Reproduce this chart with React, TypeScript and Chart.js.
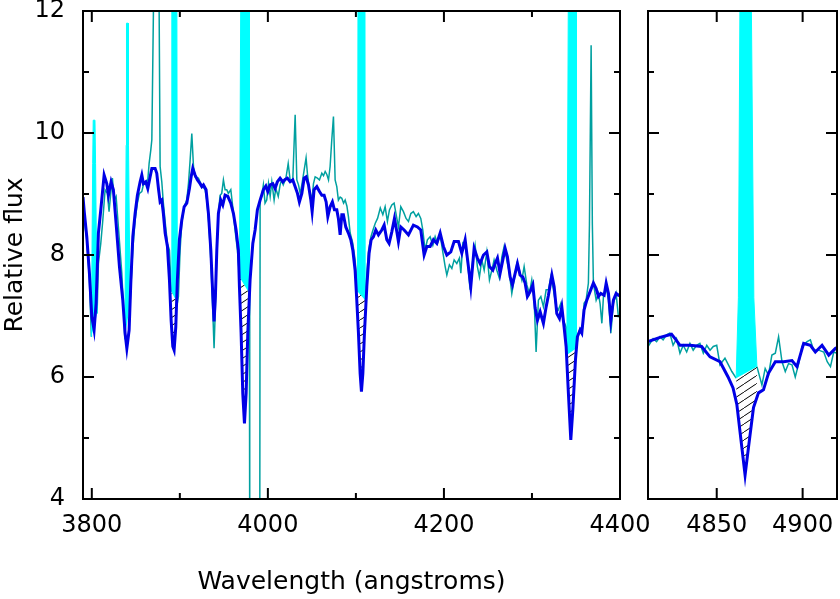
import { useEffect, useRef } from "react";
import { Chart, registerables } from "chart.js";

Chart.register(...registerables);

// ---------------- data (wavelength in angstroms, relative flux) ----------------
const modelLeft: [number, number][] = [
  [3790, 8.95], [3791.5, 8.7], [3794.3, 8.3], [3797.3, 7.7], [3800, 6.99], [3802.6, 6.77], [3804.9, 7.21],
  [3807.5, 8.36], [3810.2, 8.74], [3814.0, 9.31], [3817.0, 9.17], [3818.9, 8.98], [3821.9, 9.2], [3824.5, 9.07],
  [3827.6, 8.52], [3831.4, 7.81], [3835.2, 7.26], [3837.8, 6.72], [3839.8, 6.47], [3842.4, 6.77], [3844.3, 7.54],
  [3846.6, 8.3], [3849.2, 8.68], [3851.8, 8.98], [3854.9, 9.2], [3856.8, 9.31], [3858.6, 9.17], [3861.3, 9.2],
  [3863.6, 9.09], [3866.2, 9.28], [3868.2, 9.42], [3871.9, 9.42], [3873.8, 9.34], [3875.7, 9.09], [3877.6, 8.87],
  [3879.5, 8.9], [3881.3, 8.68], [3883.3, 8.36], [3885.9, 8.14], [3888.2, 7.59], [3890.1, 6.93], [3892.0, 6.5],
  [3893.5, 6.44], [3895.4, 6.82], [3897.2, 7.59], [3899.5, 8.25], [3902.2, 8.57], [3904.9, 8.79], [3907.9, 8.85],
  [3910.9, 9.09], [3912.8, 9.28], [3914.7, 9.42], [3917.3, 9.31], [3920.0, 9.23], [3923.0, 9.17], [3925.0, 9.12],
  [3926.8, 9.15], [3929.8, 9.07], [3932.5, 8.68], [3935.2, 8.08], [3937.5, 7.32], [3938.9, 6.91], [3940.4, 7.32],
  [3942.0, 8.08], [3943.8, 8.68], [3946.5, 8.9], [3948.8, 8.82], [3951.4, 8.98], [3954.5, 8.96], [3957.9, 8.85],
  [3960.9, 8.68], [3963.9, 8.41], [3966.5, 8.08], [3967.7, 7.48], [3969.6, 6.72], [3971.5, 5.73], [3973.4, 5.24],
  [3975.3, 5.73], [3977.2, 6.72], [3979.8, 7.59], [3982.9, 8.19], [3985.5, 8.41], [3988.1, 8.74], [3991.2, 8.9],
  [3994.9, 9.07], [3997.7, 9.13], [3999.9, 9.04], [4002.5, 9.15], [4005.6, 9.17], [4008.2, 9.09], [4010.8, 9.2],
  [4013.9, 9.26], [4017.0, 9.2], [4019.6, 9.24], [4022.2, 9.26], [4025.3, 9.2], [4028.3, 9.23], [4031.0, 9.12],
  [4033.6, 9.01], [4035.8, 8.87], [4038.6, 9.01], [4041.2, 9.26], [4043.4, 9.28], [4046.1, 9.15], [4048.8, 8.9],
  [4050.3, 8.71], [4052.5, 9.07], [4055.6, 9.12], [4058.6, 9.04], [4061.3, 8.98], [4063.9, 8.98], [4066.2, 8.87],
  [4068.1, 8.63], [4070.7, 8.79], [4073.3, 8.87], [4075.6, 8.74], [4078.3, 8.74], [4080.1, 8.6], [4082.1, 8.33],
  [4084.0, 8.66], [4085.8, 8.66], [4088.5, 8.46], [4091.5, 8.36], [4094.2, 8.25], [4096.5, 8.08], [4099.1, 7.75],
  [4101.0, 7.26], [4102.9, 6.72], [4104.8, 6.06], [4106.3, 5.76], [4107.9, 6.06], [4109.7, 6.72], [4112.4, 7.48],
  [4115.0, 8.03], [4117.3, 8.25], [4119.9, 8.3], [4122.6, 8.41], [4125.6, 8.33], [4129.4, 8.41], [4132.1, 8.49],
  [4135.1, 8.25], [4137.7, 8.19], [4140.8, 8.38], [4143.8, 8.6], [4146.5, 8.38], [4148.3, 8.22], [4151.0, 8.46],
  [4154.8, 8.41], [4159.7, 8.33], [4165.3, 8.49], [4169.9, 8.46], [4173.7, 8.41], [4177.5, 8.0], [4180.6, 8.14],
  [4184.3, 8.14], [4188.1, 8.25], [4191.9, 8.19], [4195.7, 8.36], [4199.4, 8.14], [4203.3, 8.0], [4207.8, 8.05],
  [4211.6, 8.22], [4216.5, 8.22], [4220.3, 8.03], [4224.1, 8.25], [4227.8, 7.81], [4230.5, 7.48], [4234.3, 8.11],
  [4238.0, 7.95], [4241.1, 7.86], [4244.9, 8.0], [4248.7, 8.05], [4251.7, 7.81], [4255.5, 7.75], [4258.2, 7.86],
  [4260.8, 7.95], [4263.8, 7.7], [4266.9, 7.92], [4269.5, 8.11], [4272.1, 7.97], [4275.2, 7.64], [4277.8, 7.51],
  [4280.9, 7.7], [4283.5, 7.86], [4286.5, 7.67], [4289.6, 7.64], [4292.2, 7.54], [4294.8, 7.32], [4297.9, 7.4],
  [4301.0, 7.51], [4303.6, 7.13], [4306.2, 6.93], [4309.3, 7.07], [4313.0, 6.88], [4316.1, 7.15], [4318.7, 7.34],
  [4322.6, 7.67], [4325.2, 7.48], [4328.2, 7.04], [4331.2, 6.96], [4333.9, 7.15], [4336.5, 6.82], [4338.8, 6.5],
  [4341.4, 5.73], [4344.1, 4.97], [4346.4, 5.46], [4349.4, 6.28], [4351.6, 6.66], [4354.7, 6.77], [4356.6, 6.72],
  [4359.2, 7.1], [4362.3, 7.26], [4366.0, 7.4], [4369.8, 7.54], [4372.9, 7.45], [4375.5, 7.32], [4378.2, 7.37],
  [4382.0, 7.34], [4384.3, 7.54], [4386.9, 7.37], [4389.6, 6.93], [4392.5, 7.26], [4395.6, 7.37], [4398.2, 7.34],
  [4400, 7.35],
];

const observedLeft: [number, number | null][] = [
  [3790, 8.72], [3794.3, 8.25], [3797.3, 7.59], [3799.5, 6.66], [3802, null],
  [3806.0, 7.04], [3807.5, 7.86], [3810.2, 8.19], [3812.5, 8.57], [3815.1, 9.07], [3817.7, 9.01], [3819.6, 8.71],
  [3821.5, 9.01], [3823.4, 9.26], [3825.4, 8.9], [3827.6, 8.96], [3830.2, 8.46], [3834.1, 7.7], [3836.7, 6.93],
  [3837.5, 6.62], [3840, null],
  [3843.5, 7.21], [3846.5, 8.08], [3849.2, 8.57], [3851.8, 8.85], [3854.1, 9.01], [3856.8, 9.04], [3858.6, 9.15],
  [3861.3, 9.17], [3863.6, 9.23], [3865.1, 9.5], [3867.0, 9.72], [3868.2, 9.89], [3870.0, 12.0], [3873.0, 14.5],
  [3876.5, 12.0], [3877.6, 9.45], [3879.5, 9.2], [3881.3, 8.85], [3883.5, 8.52], [3885.9, 8.19], [3888.2, 8.08],
  [3890.3, 7.4], [3893, null],
  [3897.2, 7.21], [3898.4, 7.32], [3900.3, 8.08], [3902.2, 8.52], [3904.9, 8.79], [3907.9, 8.9], [3909.8, 9.17],
  [3911.7, 9.56], [3913.6, 9.99], [3915.5, 9.45], [3917.3, 9.28], [3921.1, 9.26], [3923.8, 9.17], [3928.7, 9.07],
  [3930.6, 8.9], [3932.9, 8.52], [3935.2, 7.92], [3937.5, 7.04], [3938.9, 6.47], [3940.4, 7.15], [3942.0, 8.08],
  [3943.8, 8.68], [3945.7, 8.98], [3947.6, 9.01], [3949.5, 9.23], [3951.4, 9.07], [3953.3, 9.07], [3955.1, 9.01],
  [3957.9, 9.07], [3960.1, 8.79], [3962.7, 8.41], [3965.4, 8.08], [3967.7, 7.64], [3973, null],
  [3979.0, 7.37], [3979.4, 3.0], [3990.8, 3.0], [3991.2, 8.9], [3993.0, 8.96], [3994.9, 9.15], [3996.8, 8.85],
  [3998.7, 8.9], [4000.7, 9.17], [4002.6, 8.96], [4004.5, 9.2], [4007.1, 8.9], [4009.0, 9.09], [4011.8, 8.96],
  [4013.9, 9.15], [4015.6, 9.23], [4017.5, 9.15], [4020.5, 9.26], [4023.1, 9.5], [4025.3, 9.23], [4028.3, 9.23],
  [4031.0, 10.3], [4032.9, 9.23], [4034.8, 9.15], [4036.7, 9.01], [4038.6, 9.15], [4041.2, 9.39], [4043.4, 9.59],
  [4044.9, 9.34], [4047.2, 9.07], [4050.0, 8.9], [4051.8, 9.17], [4053.7, 9.28], [4056.3, 9.26], [4058.6, 9.23],
  [4061.3, 9.34], [4063.2, 9.3], [4065.1, 9.37], [4067.0, 9.32], [4068.9, 9.23], [4070.7, 9.45], [4072.6, 9.89],
  [4074.5, 10.27], [4076.4, 9.23], [4078.3, 9.12], [4080.1, 8.9], [4082.1, 8.95], [4084.0, 8.93], [4086.0, 8.85],
  [4087.8, 8.9], [4089.8, 8.8], [4091.5, 8.63], [4093.5, 8.36], [4096.5, 8.19], [4099.1, 7.92], [4101.0, 7.54],
  [4101.8, 7.4], [4106, null],
  [4110.6, 7.26], [4111.3, 7.48], [4114.4, 8.08], [4117.1, 8.3], [4119.4, 8.41], [4122.0, 8.52], [4124.6, 8.6],
  [4127.7, 8.77], [4130.6, 8.66], [4133.2, 8.79], [4135.8, 8.55], [4138.1, 8.74], [4140.8, 8.82], [4143.4, 8.85],
  [4146.5, 8.6], [4148.3, 8.46], [4151.0, 8.79], [4154.0, 8.71], [4157.0, 8.6], [4159.7, 8.55], [4162.4, 8.68],
  [4165.3, 8.71], [4168.4, 8.63], [4171.0, 8.68], [4173.7, 8.6], [4176.0, 8.41], [4178.6, 8.08], [4181.2, 8.25],
  [4184.3, 8.3], [4187.4, 8.16], [4190.0, 8.3], [4192.6, 8.19], [4195.7, 8.33], [4198.7, 8.05], [4201.4, 7.81],
  [4203.3, 7.67], [4206.2, 7.84], [4209.0, 7.78], [4211.6, 7.92], [4214.6, 7.86], [4217.6, 7.95], [4219.2, 7.7],
  [4221.5, 8.19], [4224.1, 8.14], [4226.7, 7.92], [4229.7, 7.43], [4232.8, 7.92], [4235.4, 8.16], [4238.0, 7.81],
  [4240.3, 7.64], [4243.0, 7.92], [4245.7, 7.75], [4248.7, 8.05], [4251.7, 7.59], [4254.4, 7.75], [4257.0, 7.92],
  [4260.1, 7.75], [4263.0, 7.62], [4265.8, 7.97], [4268.4, 8.14], [4271.4, 7.92], [4274.4, 7.7], [4277.1, 7.37],
  [4279.7, 7.59], [4282.8, 7.86], [4285.7, 7.75], [4288.5, 7.59], [4291.1, 7.81], [4294.2, 7.51], [4297.1, 7.37],
  [4299.8, 7.59], [4302.5, 7.26], [4304.7, 6.41], [4307.3, 7.26], [4310.1, 7.32], [4313.0, 7.15], [4316.1, 7.43],
  [4318.7, 7.43], [4321.4, 7.64], [4324.4, 7.43], [4327.4, 7.15], [4330.0, 7.1], [4332.8, 7.21], [4335.7, 6.93],
  [4338.8, 6.82], [4339.6, 6.36], [4345, null],
  [4350.5, 6.47], [4352.8, 6.72], [4354.7, 6.8], [4357.0, 6.75], [4359.2, 7.21], [4361.5, 7.26], [4364.1, 7.54],
  [4365.3, 8.5], [4367.2, 11.44], [4368.6, 8.5], [4369.8, 7.54], [4372.9, 7.26], [4375.5, 7.37], [4377.4, 7.2],
  [4379.4, 6.88], [4381.2, 7.32], [4384.3, 7.48], [4386.9, 7.26], [4389.6, 6.72], [4392.5, 7.21], [4395.6, 7.37],
  [4398.2, 6.99], [4400, 7.0],
];

const modelRight: [number, number][] = [
  [4810, 6.58], [4817, 6.65], [4823.7, 6.7], [4826.0, 6.62], [4828.6, 6.52], [4834.4, 6.52], [4841.2, 6.5],
  [4846.1, 6.33], [4851.9, 6.25], [4856.6, 6.0], [4859.5, 5.82], [4861.7, 5.55], [4864.6, 4.85], [4866.5, 4.39],
  [4868.5, 4.85], [4871.4, 5.5], [4874.3, 5.74], [4877.2, 5.79], [4880.1, 6.06], [4884.1, 6.25], [4888.9, 6.25],
  [4893.8, 6.27], [4896.7, 6.17], [4900.6, 6.55], [4904.5, 6.52], [4907.4, 6.41], [4911.3, 6.52], [4915.2, 6.36],
  [4919.1, 6.47], [4920, 6.48],
];

const observedRight: [number, number | null][] = [
  [4810.0, 6.5], [4813.0, 6.63], [4815.0, 6.58], [4816.9, 6.66], [4818.8, 6.61], [4820.8, 6.69], [4822.7, 6.72],
  [4824.6, 6.52], [4826.6, 6.63], [4828.6, 6.39], [4830.5, 6.52], [4832.5, 6.41], [4834.4, 6.55], [4836.3, 6.44],
  [4838.3, 6.52], [4840.2, 6.55], [4842.2, 6.39], [4844.2, 6.52], [4846.1, 6.44], [4848.0, 6.5], [4850.0, 6.52],
  [4851.9, 6.2], [4854.8, 6.31], [4856.8, 6.2], [4858.8, 6.09], [4861.3, 5.98], [4867, null],
  [4873.4, 6.17], [4876.3, 5.87], [4878.2, 6.14], [4880.1, 6.03], [4882.1, 6.36], [4884.1, 6.39], [4886.0, 6.66],
  [4888.0, 6.25], [4889.9, 6.09], [4891.8, 6.22], [4893.8, 6.2], [4895.7, 6.0], [4897.7, 6.22], [4899.6, 6.5],
  [4902.6, 6.58], [4904.5, 6.61], [4906.4, 6.44], [4909.3, 6.44], [4912.3, 6.41], [4914.3, 6.25], [4916.2, 6.17],
  [4918.1, 6.41], [4920, 6.39],
];

// masked emission-line profiles (cyan); first & last points are the straight baseline ends
const emissionH10: [number, number][] = [[3799.5, 6.66], [3801.0, 9.5], [3801.6, 10.21], [3803.6, 10.21], [3804.3, 9.5], [3806.0, 7.04]];
const emissionH9: [number, number][] = [[3837.5, 6.62], [3839.0, 9.8], [3839.4, 11.8], [3841.2, 11.8], [3841.7, 9.8], [3843.5, 7.21]];
const emissionH8: [number, number][] = [[3890.3, 7.4], [3890.9, 12.6], [3896.6, 12.6], [3897.2, 7.21]];
const emissionHeps: [number, number][] = [[3967.7, 7.64], [3969.3, 12.6], [3978.7, 12.6], [3979.0, 7.37]];
const emissionHdelta: [number, number][] = [[4101.8, 7.4], [4102.4, 12.6], [4110.3, 12.6], [4110.6, 7.26]];
const emissionHgamma: [number, number][] = [[4339.6, 6.36], [4341.4, 12.6], [4350.2, 12.6], [4350.5, 6.47]];
const emissionHbeta: [number, number][] = [[4861.3, 5.98], [4862.6, 7.3], [4863.6, 12.6], [4870.0, 12.6], [4871.6, 7.3], [4873.4, 6.17]];

const hatchedLeft = [false, false, true, true, true, true];

// axis ticks
const xMajorLeft = [3800, 4000, 4200, 4400];
const xMinorLeft = [3900, 4100, 4300];
const xMajorRight = [4850, 4900];
const xMinorRight: number[] = [];
const yMajor = [4, 6, 8, 10, 12];
const yMinor = [5, 7, 9, 11];

// ---------------- styling ----------------
const BLUE = "#0000e6";
const TEAL = "#00a0a0";
const CYAN = "#00ffff";
const FONT = "'DejaVu Sans', 'Liberation Sans', sans-serif";

const pts = (arr: [number, number | null][]) => arr.map(([x, y]) => ({ x, y }));

function makeHatch(): CanvasPattern | string {
  const c = document.createElement("canvas");
  c.width = 12;
  c.height = 8;
  const g = c.getContext("2d");
  if (!g) return "rgba(0,0,0,0.2)";
  g.strokeStyle = "#000";
  g.lineWidth = 1;
  g.beginPath();
  g.moveTo(-12, 8); g.lineTo(0, 0);
  g.moveTo(0, 8); g.lineTo(12, 0);
  g.moveTo(12, 8); g.lineTo(24, 0);
  g.stroke();
  return g.createPattern(c, "repeat") || "rgba(0,0,0,0.2)";
}

function frameTicksPlugin(xMaj: number[], xMin: number[], yMaj: number[], yMin: number[]) {
  return {
    id: "frameTicks",
    afterDatasetsDraw(chart: any) {
      const { ctx, chartArea: a, scales } = chart;
      const xs = scales.x, ys = scales.y;
      ctx.save();
      ctx.strokeStyle = "#000";
      ctx.lineWidth = 2;
      ctx.lineCap = "butt";
      ctx.strokeRect(a.left, a.top, a.right - a.left, a.bottom - a.top);
      ctx.beginPath();
      const xt = (v: number, len: number) => {
        const p = xs.getPixelForValue(v);
        ctx.moveTo(p, a.bottom); ctx.lineTo(p, a.bottom - len);
        ctx.moveTo(p, a.top); ctx.lineTo(p, a.top + len);
      };
      const yt = (v: number, len: number) => {
        const p = ys.getPixelForValue(v);
        ctx.moveTo(a.left, p); ctx.lineTo(a.left + len, p);
        ctx.moveTo(a.right, p); ctx.lineTo(a.right - len, p);
      };
      xMaj.forEach((v) => xt(v, 11));
      xMin.forEach((v) => xt(v, 6));
      yMaj.forEach((v) => yt(v, 11));
      yMin.forEach((v) => yt(v, 6));
      ctx.stroke();
      ctx.restore();
    },
  };
}

function buildDatasets(model: any[], observed: any[], lines: [number, number][][], hatched: boolean[], pattern: any) {
  const ds: any[] = [
    { data: pts(model), borderColor: BLUE, borderWidth: 3, pointRadius: 0, fill: false, order: 0 },
    { data: pts(observed), borderColor: TEAL, borderWidth: 1.5, pointRadius: 0, fill: false, order: 4, spanGaps: false },
  ];
  lines.forEach((prof, i) => {
    const baseIdx = 2 + 2 * i;
    const first = prof[0];
    const last = prof[prof.length - 1];
    ds.push({
      data: pts([first, last]),
      borderWidth: 0,
      borderColor: "rgba(0,0,0,0)",
      pointRadius: 0,
      backgroundColor: pattern,
      fill: hatched[i] ? { target: 0 } : false,
      order: 2,
    });
    ds.push({
      data: pts(prof),
      borderWidth: 1,
      borderColor: CYAN,
      backgroundColor: CYAN,
      pointRadius: 0,
      fill: { target: baseIdx },
      order: 3,
    });
  });
  return ds;
}

function buildConfig(opts: {
  datasets: any[]; xMin: number; xMax: number; xMaj: number[]; xMin2: number[];
  padding: any; showY: boolean; showXTitle: boolean;
}): any {
  return {
    type: "line",
    data: { datasets: opts.datasets },
    plugins: [frameTicksPlugin(opts.xMaj, opts.xMin2, yMajor, yMinor)],
    options: {
      responsive: false,
      animation: false,
      devicePixelRatio: 1,
      layout: { padding: opts.padding },
      plugins: { legend: { display: false }, tooltip: { enabled: false } },
      elements: { line: { tension: 0 } },
      scales: {
        x: {
          type: "linear",
          min: opts.xMin,
          max: opts.xMax,
          grid: { display: false, drawTicks: false },
          border: { display: false },
          afterBuildTicks: (s: any) => { s.ticks = opts.xMaj.map((v) => ({ value: v })); },
          afterFit: (s: any) => { s.height = 100; s.paddingLeft = 0; s.paddingRight = 0; },
          ticks: {
            autoSkip: false, maxRotation: 0, minRotation: 0, padding: 12, color: "#000",
            font: { family: FONT, size: 24 },
            callback: (v: any) => String(v),
          },
          title: {
            display: opts.showXTitle, text: "Wavelength (angstroms)", color: "#000",
            font: { family: FONT, size: 25 }, padding: { top: 0, bottom: 2 },
          },
        },
        y: {
          type: "linear",
          display: opts.showY,
          min: 4,
          max: 12,
          grid: { display: false, drawTicks: false },
          border: { display: false },
          afterBuildTicks: (s: any) => { s.ticks = yMajor.map((v) => ({ value: v })); },
          afterFit: (s: any) => { s.width = opts.showY ? 83 : 0; s.paddingTop = 0; s.paddingBottom = 0; },
          ticks: {
            padding: 18, color: "#000", font: { family: FONT, size: 24 },
            callback: (v: any) => String(v),
          },
          title: {
            display: true, text: "Relative flux", color: "#000",
            font: { family: FONT, size: 25 }, padding: { top: 0, bottom: 0 },
          },
        },
      },
    },
  };
}

export default function App() {
  const leftRef = useRef<HTMLCanvasElement>(null);
  const rightRef = useRef<HTMLCanvasElement>(null);

  useEffect(() => {
    const pattern = makeHatch();
    const leftLines = [emissionH10, emissionH9, emissionH8, emissionHeps, emissionHdelta, emissionHgamma];
    const left = new Chart(
      leftRef.current as HTMLCanvasElement,
      buildConfig({
        datasets: buildDatasets(modelLeft, observedLeft, leftLines, hatchedLeft, pattern),
        xMin: 3790, xMax: 4400, xMaj: xMajorLeft, xMin2: xMinorLeft,
        padding: { left: 0, top: 11, right: 220, bottom: 0 },
        showY: true, showXTitle: true,
      })
    );
    const right = new Chart(
      rightRef.current as HTMLCanvasElement,
      buildConfig({
        datasets: buildDatasets(modelRight, observedRight, [emissionHbeta], [true], pattern),
        xMin: 4810, xMax: 4920, xMaj: xMajorRight, xMin2: xMinorRight,
        padding: { left: 648, top: 11, right: 3, bottom: 0 },
        showY: false, showXTitle: false,
      })
    );
    return () => {
      left.destroy();
      right.destroy();
    };
  }, []);

  return (
    <div style={{ position: "fixed", left: 0, top: 0, width: 840, height: 599, background: "#fff" }}>
      <canvas ref={leftRef} width={840} height={599} style={{ position: "absolute", left: 0, top: 0 }} />
      <canvas ref={rightRef} width={840} height={599} style={{ position: "absolute", left: 0, top: 0 }} />
    </div>
  );
}
